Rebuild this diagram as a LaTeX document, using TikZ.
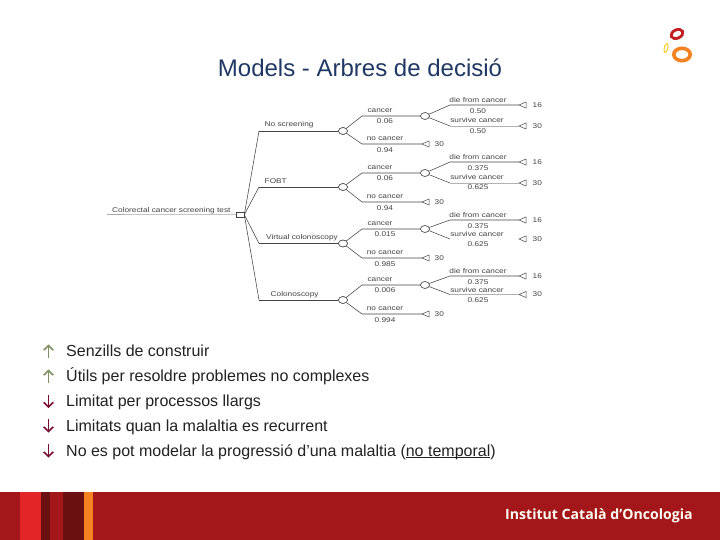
\documentclass[tikz,border=0pt]{standalone}
\usepackage{fontspec}
\setmainfont{Liberation Sans}
\newfontfamily\logofont{Open Sans}
\newfontfamily\widefont[FakeStretch=1.2]{Liberation Sans}
\usetikzlibrary{arrows.meta,shapes.geometric}
\definecolor{titleblue}{HTML}{1F3864}
\definecolor{bodygray}{HTML}{222222}
\definecolor{treegray}{HTML}{444444}
\definecolor{footred}{HTML}{A3161A}
\definecolor{brightred}{HTML}{E42528}
\definecolor{darkred}{HTML}{6B1010}
\definecolor{footorange}{HTML}{F58220}
\definecolor{upgreen}{HTML}{7F8F5F}
\definecolor{downred}{HTML}{7A1030}
\tikzset{
  edge/.style={treegray,line width=0.55pt},
  chance/.style={ellipse,draw=treegray,fill=white,line width=0.5pt,minimum width=9pt,minimum height=6.8pt,inner sep=0pt},
  decision/.style={rectangle,draw=treegray,fill=white,line width=0.5pt,minimum width=7.5pt,minimum height=5.5pt,inner sep=0pt},
  tinytxt/.style={font=\widefont\fontsize{6.9}{8}\selectfont,text=treegray,inner sep=0pt},
  valtxt/.style={font=\widefont\fontsize{6.9}{8}\selectfont,text=treegray,inner sep=0pt,anchor=west},
  bodytxt/.style={font=\fontsize{16}{18}\selectfont,text=bodygray,anchor=base west,inner sep=0pt},
  uparrow/.style={upgreen,line width=1.6pt,-{Straight Barb[length=4.5pt,width=9.5pt]}},
  downarrow/.style={downred,line width=1.6pt,-{Straight Barb[length=4.5pt,width=9.5pt]}},
}
\newcommand{\grp}[9]{%
  \node[chance] (#1c) at (343,#2) {};
  \coordinate (#1ca) at (362,#3);
  \coordinate (#1no) at (362,#6);
  \node[chance] (#1d) at (425,#3) {};
  \coordinate (#1di) at (450,#4);
  \coordinate (#1su) at (450,#5);
  \coordinate (#1t1) at (519,#4);
  \coordinate (#1t2) at (519,#5);
  \coordinate (#1t3) at (422,#6);
  \draw[edge] (#1c) -- (#1ca) -- (#1d);
  \draw[edge] (#1c) -- (#1no) -- (#1t3);
  \draw[edge] (#1d) -- (#1di) -- (#1t1);
  \draw[edge] (#1d) -- (#1su);
  \node[chance] at (#1c) {};
  \node[chance] at (#1d) {};
  \foreach \p/\v/\n in {#1t1/16/a,#1t2/30/b}{
    \draw[edge,line width=0.5pt] (\p) -- ++(7,-3) -- ++(0,6) -- cycle;
    \node[valtxt] (#1v\n) at ([xshift=13.5pt]\p) {\v};
  }
  \draw[edge,line width=0.5pt] (#1t3) -- ++(7,-3) -- ++(0,6) -- cycle;
  \node[valtxt] (#1vc) at ([xshift=12.5pt]#1t3) {30};
  \node[tinytxt] (#1lca) at (380,#3-5.5) {cancer};
  \node[tinytxt] (#1pca) at (385,#3+5.5) {#7};
  \node[tinytxt] (#1lno) at (385,#6-5) {no cancer};
  \node[tinytxt] (#1pno) at (385,#6+6.5) {#8};
  \node[tinytxt] (#1ldi) at (478,#4-4.5) {die from cancer};
  \node[tinytxt] (#1pdi) at (478,#4+6) {#9};
}
\begin{document}
\begin{tikzpicture}[x=1pt,y=-1pt]
\useasboundingbox (0,0) rectangle (720,540);
\fill[white] (0,0) rectangle (720,540);
% footer
\fill[footred] (0,492) rectangle (720,540);
\fill[brightred] (20,492) rectangle (41,540);
\fill[darkred] (41,492) rectangle (50,540);
\fill[darkred] (63,492) rectangle (84,540);
\fill[footorange] (84,492) rectangle (93,540);
\node[anchor=base west,inner sep=0pt,text=white!95!yellow,font=\logofont\bfseries\fontsize{14.1}{16}\selectfont] (foot) at (505,519) {Institut Català d’Oncologia};
% logo
\draw[brightred!85!black,line width=2.8pt,rotate around={25:(677,34)}] (677,34) ellipse (6.2pt and 4.2pt);
\draw[footorange,line width=3.6pt] (682,54.5) ellipse (8.2pt and 6.2pt);
\draw[yellow!60!orange,line width=0.9pt,rotate around={-15:(666,48)}] (666,48) ellipse (1.8pt and 4.4pt);
% title
\node[font=\fontsize{24}{27}\selectfont,text=titleblue,inner sep=0pt] (title) at (360,68) {Models - Arbres de decisió};
% tree
\coordinate (rootstart) at (107,214.5);
\node[decision] (root) at (240.3,214.7) {};
\coordinate (b1) at (259,131);
\coordinate (b2) at (259,187);
\coordinate (b3) at (259,243.5);
\coordinate (b4) at (259,300);
\draw[edge,gray!70] (rootstart) -- (root);
\grp{a}{131}{116}{105}{126}{144}{0.06}{0.94}{0.50}
\grp{f}{187}{173}{162}{183}{202}{0.06}{0.94}{0.375}
\grp{v}{243.5}{229}{220}{239}{258}{0.015}{0.985}{0.375}
\grp{k}{300}{285}{276}{294.5}{314}{0.006}{0.994}{0.375}
\draw[edge,gray!60] (asu) -- (at2);
\draw[edge,gray!60] (fsu) -- (ft2);
\draw[edge,gray!60] (ksu) -- (kt2);
\foreach \e in {b1,b2,b3,b4}{\draw[edge] (root.east) -- (\e);}
\draw[edge] (b1) -- (ac);
\draw[edge] (b2) -- (fc);
\draw[edge] (b3) -- (vc);
\draw[edge] (b4) -- (kc);
\node[chance] at (ac) {};\node[chance] at (fc) {};\node[chance] at (vc) {};\node[chance] at (kc) {};
\node[decision] at (root) {};
\node[tinytxt] (lsu1) at (477,120) {survive cancer};
\node[tinytxt] (psu1) at (478,131.5) {0.50};
\node[tinytxt] (lsu2) at (477,177) {survive cancer};
\node[tinytxt] (psu2) at (478,187.5) {0.625};
\node[tinytxt] (lsu3) at (477,234) {survive cancer};
\node[tinytxt] (psu3) at (478,244.5) {0.625};
\node[tinytxt] (lsu4) at (477,290) {survive cancer};
\node[tinytxt] (psu4) at (478,300.5) {0.625};
\node[tinytxt,anchor=west] (n1) at (264.5,125) {No screening};
\node[tinytxt,anchor=west] (n2) at (264.5,181) {FOBT};
\node[tinytxt,anchor=west] (n3) at (266,237.5) {Virtual colonoscopy};
\node[tinytxt,anchor=west] (n4) at (270.5,295) {Colonoscopy};
\node[tinytxt,anchor=west] (n0) at (112,210.5) {Colorectal cancer screening test};
% bullets
\foreach \y/\s/\st in {351/u1/uparrow,376/u2/uparrow}{
  \coordinate (\s a) at (48.5,\y+7); \coordinate (\s b) at (48.5,\y-6.5);
  \draw[\st] (\s a) -- (\s b);
}
\foreach \y/\s in {401/d1,425.5/d2,450.5/d3}{
  \coordinate (\s a) at (48.5,\y-6.5); \coordinate (\s b) at (48.5,\y+7);
  \draw[downarrow] (\s a) -- (\s b);
}
\node[bodytxt] (t1) at (66,356.5) {Senzills de construir};
\node[bodytxt] (t2) at (66,381.5) {Útils per resoldre problemes no complexes};
\node[bodytxt] (t3) at (66,406.5) {Limitat per processos llargs};
\node[bodytxt] (t4) at (66,431) {Limitats quan la malaltia es recurrent};
\node[bodytxt] (t5) at (66,456) {No es pot modelar la progressió d’una malaltia ($\underline{\smash{\hbox{no temporal}}}$)};
\end{tikzpicture}
\end{document}
